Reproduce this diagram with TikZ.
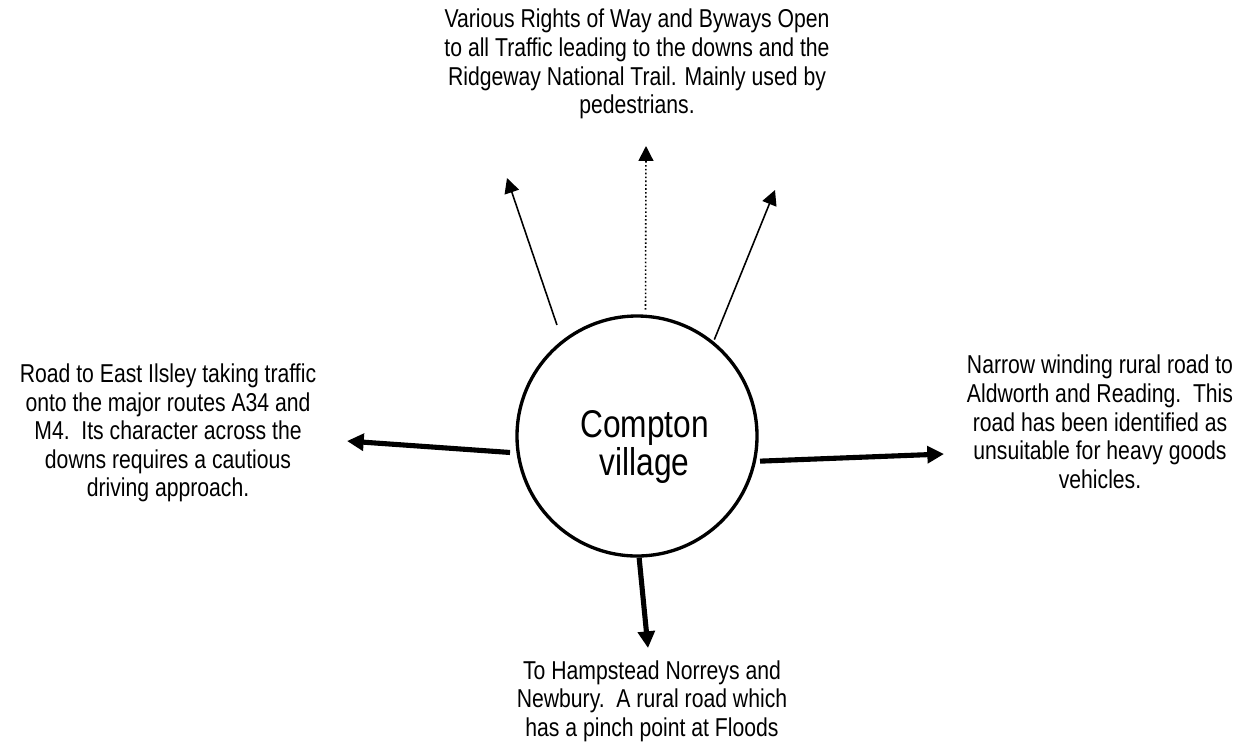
\documentclass[tikz,border=0pt]{standalone}
\usepackage{fontspec}
\setmainfont{Liberation Sans}[FakeStretch=0.82]
\usetikzlibrary{positioning,arrows.meta}
\tikzstyle{village} = [circle, draw=black, line width=1.9pt, minimum size=4.8cm, text centered, align=center, font=\fontsize{22}{20.5}\selectfont]
\tikzstyle{route} = [align=center, text centered, font=\fontsize{14.7}{16.3}\selectfont]
\tikzstyle{road} = [line width=0.9pt, -{Triangle[length=8.5pt,width=8.5pt]}]
\tikzstyle{mainroad} = [line width=2.9pt, -{Triangle[length=9.5pt,width=9.5pt]}]
\begin{document}
\begin{tikzpicture}
\useasboundingbox (0,0) rectangle (25.04,-14.94);
\node (compton) at (12.74,-8.72) [village] {\rule{0pt}{0.98cm}\hspace*{0.3cm}Compton\\\hspace*{0.3cm}village};
%
\node (downs) at (12.74,-1.28) [route] {Various Rights of Way and Byways Open\\to all Traffic leading to the downs and the\\Ridgeway National Trail. Mainly used by\\pedestrians.};
%
\node (ilsley) at (3.36,-8.66) [route] {Road to East Ilsley taking traffic\\onto the major routes A34 and\\M4.\ \ Its character across the\\downs requires a cautious\\driving approach.};
%
\node (aldworth) at (22.0,-8.44) [route] {Narrow winding rural road to\\Aldworth and Reading.\ \ This\\road has been identified as\\unsuitable for heavy goods\\vehicles.};
%
\node (newbury) at (13.04,-14.02) [route] {To Hampstead Norreys and\\Newbury.\ \ A rural road which\\has a pinch point at Floods};
%
\coordinate (toleft) at (10.14,-3.56);
\coordinate (toup) at (12.92,-2.92);
\coordinate (toright) at (15.5,-3.8);
\coordinate (towest) at (6.94,-8.82);
\coordinate (toeast) at (18.88,-9.08);
\coordinate (tosouth) at (12.96,-12.96);
%
\draw [road, shorten <=0.32cm] (compton.128) -- (toleft);
\draw [road, dash pattern=on 0.9pt off 1.3pt, shorten <=0.1cm] (compton.86) -- (toup);
\draw [road, shorten <=0.04cm] (compton.51) -- (toright);
\draw [mainroad, shorten <=0.13cm] (compton.188) -- (towest);
\draw [mainroad, shorten <=0.08cm] (compton.348) -- (toeast);
\draw [mainroad] (compton.271) -- (tosouth);

\end{tikzpicture}
\end{document}
